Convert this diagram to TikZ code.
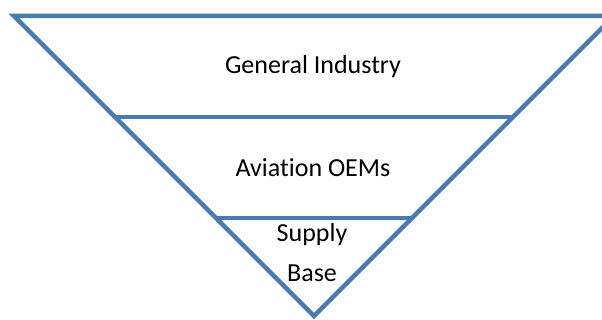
\documentclass[tikz,border=0pt]{standalone}
\usepackage{fontspec}
\setmainfont{Carlito}[Ligatures={NoCommon}]
\definecolor{edgeblue}{RGB}{74,122,180}
\begin{document}
\begin{tikzpicture}[x=1pt,y=-1pt,
  edge/.style={draw=edgeblue,line width=4.5pt,line join=miter},
  lbl/.style={anchor=base,inner sep=0pt,font=\fontsize{26}{30}\selectfont}]
\useasboundingbox (0,0) rectangle (602,320);
\clip (0,0) rectangle (602,320);
\coordinate (tl) at (14,16);
\coordinate (tr) at (614,16);
\coordinate (apex) at (314,316);
\coordinate (ml) at (115,117);
\coordinate (mr) at (513,117);
\coordinate (bl) at (216,218);
\coordinate (br) at (412,218);
\draw[edge] (tl) -- (tr) -- (apex) -- cycle;
\draw[edge] (ml) -- (mr);
\draw[edge] (bl) -- (br);
\node[lbl] (gi) at (313,74) {General Industry};
\node[lbl] (ao) at (313,177) {Aviation OEMs};
\node[lbl] (sp) at (312,242) {Supply};
\node[lbl] (ba) at (312,282) {Base};
\end{tikzpicture}
\end{document}
